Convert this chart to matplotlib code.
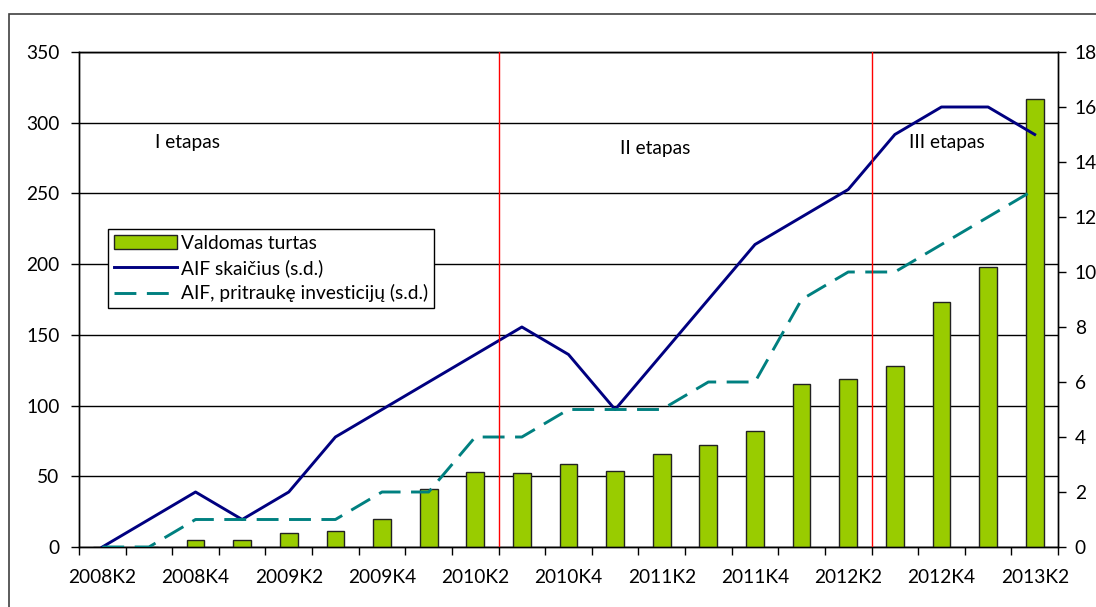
import numpy as np
import matplotlib
matplotlib.use("Agg")
import matplotlib.pyplot as plt
from matplotlib.patches import Rectangle

# ── Data ─────────────────────────────────────────────────────────────────────
quarters = ["2008K2", "2008K3", "2008K4", "2009K1", "2009K2", "2009K3", "2009K4",
            "2010K1", "2010K2", "2010K3", "2010K4", "2011K1", "2011K2", "2011K3",
            "2011K4", "2012K1", "2012K2", "2012K3", "2012K4", "2013K1", "2013K2"]
valdomas_turtas = [0, 0, 5, 5, 10, 11, 20, 41, 53, 52, 59, 54, 66, 72, 82,
                   115, 119, 128, 173, 198, 317]
aif_skaicius = [0, 1, 2, 1, 2, 4, 5, 6, 7, 8, 7, 5, 7, 9, 11, 12, 13, 15, 16, 16, 15]
aif_investicijos = [0, 0, 1, 1, 1, 1, 2, 2, 4, 4, 5, 5, 5, 6, 6, 9, 10, 10, 11, 12, 13]
stage_bounds = [8.5, 16.5]
stage_labels = ["I etapas", "II etapas", "III etapas"]

plt.rcParams["font.family"] = ["Lato", "DejaVu Sans"]
plt.rcParams["font.size"] = 13.8

x = np.arange(len(quarters))

fig = plt.figure(figsize=(10.96, 6.07), dpi=100)
fig.patches.append(Rectangle((9 / 1096, -0.1), 1.2, 1 - 14 / 607 + 0.1,
                             transform=fig.transFigure, fill=False,
                             edgecolor="#404040", linewidth=1.2))
ax = fig.add_axes([79 / 1096, 1 - 547 / 607, (1058 - 79) / 1096, (547 - 52) / 607])
ax2 = ax.twinx()

# ── Bars (left axis) ─────────────────────────────────────────────────────────
bars = ax.bar(x, valdomas_turtas, width=0.38, color="#99CC00", edgecolor="#222222",
              linewidth=1, label="Valdomas turtas", zorder=3)
ax.set_ylim(0, 350)
ax.set_yticks(range(0, 351, 50))
ax.set_xlim(-0.5, len(quarters) - 0.5)
ax.yaxis.grid(True, color="black", linewidth=1)
ax.set_axisbelow(True)

ax.set_xticks(np.arange(-0.5, len(quarters), 1))
ax.set_xticklabels([])
ax.set_xticks(x[::2], minor=True)
ax.set_xticklabels(quarters[::2], minor=True)
ax.tick_params(axis="x", which="major", length=6, width=1, direction="out")
ax.tick_params(axis="x", which="minor", length=0, pad=16)
ax.tick_params(axis="y", length=6, width=1, direction="out", pad=8)

# ── Lines (right axis) ───────────────────────────────────────────────────────
l1, = ax2.plot(x, aif_skaicius, color="#000080", linewidth=2.1,
               label="AIF skaičius (s.d.)", zorder=4)
l2, = ax2.plot(x, aif_investicijos, color="#008080", linewidth=2.1, dashes=(7.5, 3.6),
               label="AIF, pritraukę investicijų (s.d.)", zorder=4)
ax2.set_ylim(0, 18)
ax2.set_yticks(range(0, 19, 2))
ax2.tick_params(axis="y", length=6, width=1, direction="out", pad=6)

for b in stage_bounds:
    ax2.axvline(b, color="red", linewidth=1, zorder=5)

ax2.text(1.14, 14.7, stage_labels[0], va="center")
ax2.text(11.1, 14.5, stage_labels[1], va="center")
ax2.text(17.3, 14.7, stage_labels[2], va="center")

for a in (ax, ax2):
    for s in a.spines.values():
        s.set_color("black")
        s.set_linewidth(1)

leg = ax2.legend([bars, l1, l2], [bars.get_label(), l1.get_label(), l2.get_label()],
                 loc="upper left", bbox_to_anchor=((108 - 79) / 979, (547 - 229) / 495),
                 frameon=True, fancybox=False, edgecolor="black", framealpha=1,
                 borderpad=0.3, labelspacing=0.38, handlelength=3.3, handletextpad=0.2,
                 borderaxespad=0)
leg.get_frame().set_linewidth(1)

fig.savefig("out.png", dpi=100)
